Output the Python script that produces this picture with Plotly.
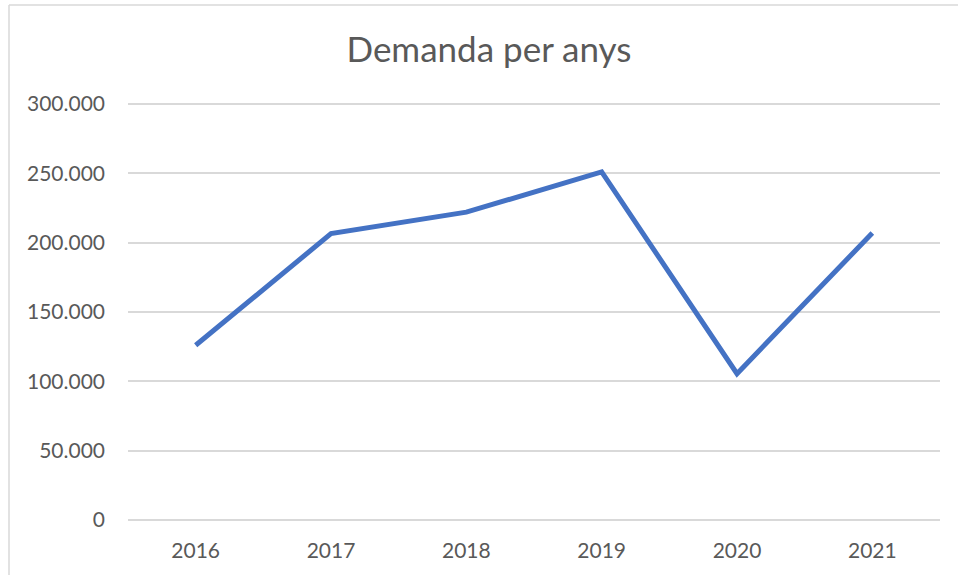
import plotly.graph_objects as go

years = ["2016", "2017", "2018", "2019", "2020", "2021"]
demanda = [126000, 206500, 222000, 251000, 105500, 207000]
y_ticks = [0, 50000, 100000, 150000, 200000, 250000, 300000]

W, H = 958, 575
L, R, T, B = 128, 18, 102, 55
pw, ph = W - L - R, H - T - B
y_top = 300000 * ph / 416  # 300.000 gridline lands at y=104 px

def px_x(x):
    return (x - L) / pw

def px_y(y):
    return (H - B - y) / ph

fig = go.Figure()
fig.add_trace(go.Scatter(
    x=years, y=demanda, mode="lines",
    line=dict(color="#4472C4", width=5, shape="linear"),
    hoverinfo="skip",
))

border = "#d9d9d9"
fig.update_layout(
    width=W, height=H,
    margin=dict(l=L, r=R, t=T, b=B, pad=0, autoexpand=False),
    paper_bgcolor="white", plot_bgcolor="white",
    separators=",.",
    showlegend=False,
    font=dict(family="Lato, Open Sans, sans-serif", color="#595959", size=21),
    title=dict(text="Demanda per anys", x=489 / W, xanchor="center",
               y=1 - 50 / H, yanchor="middle", xref="container", yref="container",
               font=dict(size=35, color="#595959")),
    xaxis=dict(type="category", range=[-0.5, 5.5], automargin=False,
               showgrid=False, zeroline=False, showline=False,
               ticks="", ticklabelstandoff=16, tickfont=dict(size=21, color="#595959")),
    yaxis=dict(range=[0, y_top], tickvals=y_ticks, tickformat=",d", automargin=False,
               showgrid=True, gridcolor="#d9d9d9", gridwidth=1.5,
               zeroline=True, zerolinecolor="#d9d9d9", zerolinewidth=1.5,
               showline=False, ticks="", ticklabelstandoff=22,
               tickfont=dict(size=21, color="#595959")),
    shapes=[
        dict(type="line", xref="paper", yref="paper",
             x0=px_x(9), x1=px_x(W + 5), y0=px_y(5), y1=px_y(5),
             line=dict(color=border, width=1.5)),
        dict(type="line", xref="paper", yref="paper",
             x0=px_x(9), x1=px_x(9), y0=px_y(5), y1=px_y(H + 5),
             line=dict(color=border, width=1.5)),
    ],
)

fig.write_html("out.html", config={"displayModeBar": False},
               post_script="document.body.style.margin='0';")
